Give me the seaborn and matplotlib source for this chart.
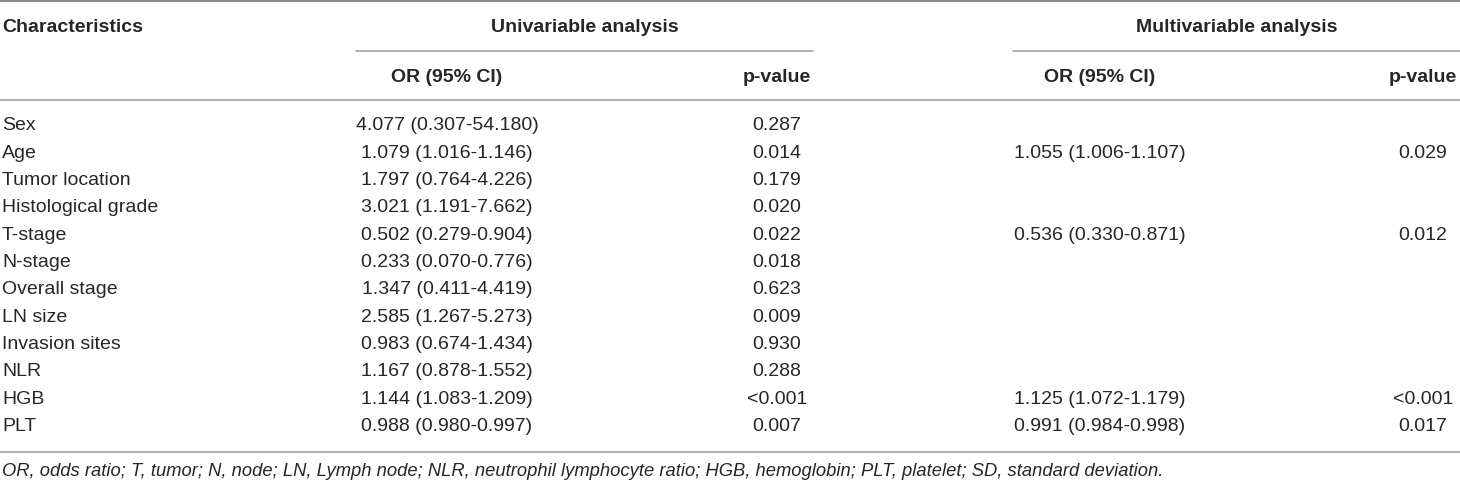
import matplotlib
matplotlib.use('Agg')
import matplotlib.pyplot as plt
import seaborn as sns

# Table content
characteristics = ['Sex', 'Age', 'Tumor location', 'Histological grade', 'T-stage', 'N-stage',
                   'Overall stage', 'LN size', 'Invasion sites', 'NLR', 'HGB', 'PLT']
uni_or = ['4.077 (0.307-54.180)', '1.079 (1.016-1.146)', '1.797 (0.764-4.226)', '3.021 (1.191-7.662)',
          '0.502 (0.279-0.904)', '0.233 (0.070-0.776)', '1.347 (0.411-4.419)', '2.585 (1.267-5.273)',
          '0.983 (0.674-1.434)', '1.167 (0.878-1.552)', '1.144 (1.083-1.209)', '0.988 (0.980-0.997)']
uni_p = ['0.287', '0.014', '0.179', '0.020', '0.022', '0.018', '0.623', '0.009', '0.930', '0.288',
         '<0.001', '0.007']
multi_or = ['', '1.055 (1.006-1.107)', '', '', '0.536 (0.330-0.871)', '', '', '', '', '',
            '1.125 (1.072-1.179)', '0.991 (0.984-0.998)']
multi_p = ['', '0.029', '', '', '0.012', '', '', '', '', '', '<0.001', '0.017']
footnote = ('OR, odds ratio; T, tumor; N, node; LN, Lymph node; NLR, neutrophil lymphocyte ratio; '
            'HGB, hemoglobin; PLT, platelet; SD, standard deviation.')

sns.set_theme(style='white')
plt.rcParams['font.family'] = ['Liberation Sans', 'DejaVu Sans']

fig = plt.figure(figsize=(14.6, 4.82), dpi=100)
ax = fig.add_axes([0, 0, 1, 1])
ax.set_xlim(0, 1460)
ax.set_ylim(482, 0)
ax.axis('off')

txt = '#262626'
line = '#9a9a9a'
fs = 14

# column centres
x_char = 2
x_uor, x_up = 447, 777
x_mor, x_mp = 1100, 1423

# rules
ax.plot([0, 1460], [1, 1], color='#888888', lw=1.4)
ax.plot([356, 813], [51, 51], color=line, lw=1.1)
ax.plot([1013, 1460], [51, 51], color=line, lw=1.1)
ax.plot([0, 1460], [100, 100], color=line, lw=1.1)
ax.plot([0, 1460], [452, 452], color=line, lw=1.1)

# headers
hdr = dict(fontsize=fs, fontweight='bold', color=txt, va='center')
ax.text(x_char, 27, 'Characteristics', ha='left', **hdr)
ax.text((356 + 813) / 2, 27, 'Univariable analysis', ha='center', **hdr)
ax.text((1013 + 1460) / 2, 27, 'Multivariable analysis', ha='center', **hdr)
ax.text(x_uor, 77, 'OR (95% CI)', ha='center', **hdr)
ax.text(x_up, 77, 'p-value', ha='center', **hdr)
ax.text(x_mor, 77, 'OR (95% CI)', ha='center', **hdr)
ax.text(x_mp, 77, 'p-value', ha='center', **hdr)

# body rows
row0, step = 126, 27.3
cell = dict(fontsize=fs, color=txt, va='center')
for i, name in enumerate(characteristics):
    y = row0 + i * step
    ax.text(x_char, y, name, ha='left', **cell)
    ax.text(x_uor, y, uni_or[i], ha='center', **cell)
    ax.text(x_up, y, uni_p[i], ha='center', **cell)
    ax.text(x_mor, y, multi_or[i], ha='center', **cell)
    ax.text(x_mp, y, multi_p[i], ha='center', **cell)

ax.text(x_char, 471, footnote, ha='left', va='center', fontsize=13.2, style='italic', color=txt)

fig.savefig('out.png', dpi=100)
